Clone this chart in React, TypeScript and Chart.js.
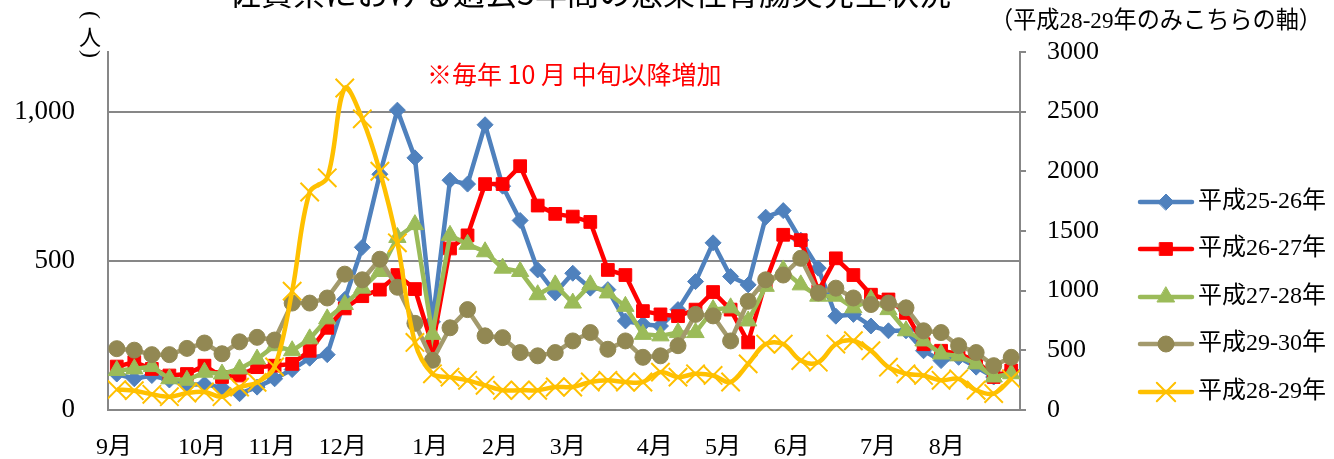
import React, { useEffect, useRef } from 'react';
import { Chart, registerables } from 'chart.js';
import { drawPoint } from 'chart.js/helpers';

Chart.register(...registerables);

// ---- data ----
const weekNumbers = [36, 37, 38, 39, 40, 41, 42, 43, 44, 45, 46, 47, 48, 49, 50, 51, 52, 1, 2, 3, 4, 5, 6, 7, 8, 9, 10, 11, 12, 13, 14, 15, 16, 17, 18, 19, 20, 21, 22, 23, 24, 25, 26, 27, 28, 29, 30, 31, 32, 33, 34, 35];

const monthLabels = ['9月', '10月', '11月', '12月', '1月', '2月', '3月', '4月', '5月', '6月', '7月', '8月'];
const monthPositions = [-0.16, 4.86, 8.85, 12.89, 17.86, 21.85, 25.72, 30.68, 34.56, 38.49, 43.4, 47.33];

const leftTicks = [0, 500, 1000];
const rightTicks = [0, 500, 1000, 1500, 2000, 2500, 3000];

const seriesNames = ['平成25-26年', '平成26-27年', '平成27-28年', '平成29-30年', '平成28-29年'];

const s2526 = [120, 104, 115, 100, 84, 86, 74, 54, 76, 104, 135, 173, 185, 370, 545, 790, 1005, 845, 295, 770, 757, 956, 750, 635, 469, 392, 458, 408, 403, 298, 287, 281, 336, 430, 560, 447, 419, 646, 668, 569, 475, 314, 320, 281, 265, 265, 198, 165, 176, 143, 110, 132];
const s2627 = [145, 160, 137, 115, 120, 148, 110, 115, 143, 148, 154, 198, 275, 340, 381, 403, 452, 405, 215, 541, 585, 757, 757, 817, 685, 657, 648, 630, 469, 452, 331, 320, 314, 336, 395, 336, 226, 430, 587, 569, 398, 508, 452, 386, 370, 325, 220, 198, 187, 165, 110, 132];
const s2728 = [132, 137, 145, 104, 99, 126, 120, 137, 170, 215, 198, 238, 305, 353, 408, 464, 578, 621, 253, 585, 555, 530, 475, 464, 386, 419, 358, 419, 392, 347, 253, 248, 259, 259, 336, 342, 298, 414, 469, 419, 381, 381, 342, 370, 336, 265, 231, 187, 181, 154, 110, 121];
const s2930 = [205, 200, 185, 185, 206, 224, 188, 228, 243, 234, 358, 358, 375, 455, 436, 505, 411, 290, 166, 275, 336, 248, 242, 192, 181, 192, 231, 259, 203, 231, 176, 181, 215, 320, 315, 231, 364, 436, 452, 508, 392, 408, 375, 353, 358, 342, 265, 259, 215, 192, 148, 176];
const s2829 = [170, 160, 130, 110, 140, 150, 110, 190, 230, 360, 995, 1826, 1945, 2698, 2440, 2000, 1400, 565, 302, 274, 247, 205, 164, 164, 164, 191, 191, 233, 247, 233, 233, 316, 274, 302, 288, 233, 385, 551, 551, 413, 399, 551, 579, 496, 357, 302, 288, 247, 260, 164, 136, 260];

const titleText = '佐賀県における過去5年間の感染性胃腸炎発生状況';
const unitText = '人';
const rightAxisNote = '（平成28-29年のみこちらの軸）';
const redNote = '※毎年 10 月 中旬以降増加';

// ---- styles ----
const SERIF = '"Liberation Serif", "Noto Sans CJK JP", serif';
const JP = '"Noto Sans CJK JP", sans-serif';
const GRID = '#878787';

const styles = [
  { line: '#4F81BD', point: '#4F81BD', pointStyle: 'rectRot', radius: 8, pbw: 1 },
  { line: '#FF0000', point: '#FF0000', pointStyle: 'rect', radius: 9, pbw: 1 },
  { line: '#9BBB59', point: '#9BBB59', pointStyle: 'triangle', radius: 10, pbw: 1 },
  { line: '#A39A6C', point: '#928853', pointStyle: 'circle', radius: 8, pbw: 1 },
  { line: '#FFC000', point: '#FFC000', pointStyle: 'crossRot', radius: 13, pbw: 2 },
];

const toXY = (vals: number[]) => vals.map((v, i) => ({ x: i, y: v, week: weekNumbers[i] }));

const annotationPlugin = {
  id: 'annotations',
  afterDraw(chart: any) {
    const ctx = chart.ctx as CanvasRenderingContext2D;
    ctx.save();
    ctx.fillStyle = '#000';
    // clipped title at very top
    ctx.font = `32px ${JP}`;
    ctx.textAlign = 'center';
    ctx.textBaseline = 'alphabetic';
    ctx.fillText(titleText, 590, 5, 760);

    // unit (vertical) for left axis
    ctx.font = `24px ${SERIF}`;
    ctx.textBaseline = 'middle';
    ctx.save();
    ctx.translate(90, 15);
    ctx.rotate(Math.PI / 2);
    ctx.fillText('(', 0, 0);
    ctx.restore();
    ctx.font = `22px ${JP}`;
    ctx.fillText(unitText, 90, 37);
    ctx.font = `24px ${SERIF}`;
    ctx.save();
    ctx.translate(90, 54);
    ctx.rotate(Math.PI / 2);
    ctx.fillText(')', 0, 0);
    ctx.restore();

    // right axis note
    ctx.font = `24px ${SERIF}`;
    ctx.textAlign = 'left';
    ctx.fillText(rightAxisNote, 990, 22, 332);

    // red note
    ctx.fillStyle = '#FF0000';
    ctx.font = `25px ${JP}`;
    ctx.fillText(redNote, 427, 74, 302);

    // legend
    const ys = [202, 249, 297, 344, 392];
    [0, 1, 2, 3, 4].forEach((k, j) => {
      const st = styles[k];
      const y = ys[j];
      ctx.strokeStyle = st.line;
      ctx.lineWidth = 4.5;
      ctx.lineCap = 'round';
      ctx.beginPath();
      ctx.moveTo(1140, y);
      ctx.lineTo(1192, y);
      ctx.stroke();
      ctx.fillStyle = st.point;
      ctx.strokeStyle = st.point;
      ctx.lineWidth = st.pbw;
      drawPoint(ctx, { pointStyle: st.pointStyle as any, radius: st.radius, borderWidth: st.pbw, rotation: 0 }, 1166, y);
      ctx.fillStyle = '#000';
      ctx.font = `24px ${SERIF}`;
      ctx.textAlign = 'left';
      ctx.textBaseline = 'middle';
      ctx.fillText(seriesNames[k], 1198, y, 131);
    });
    ctx.restore();
  },
};

export default function App() {
  const ref = useRef<HTMLCanvasElement>(null);
  useEffect(() => {
    if (!ref.current) return;
    const all = [s2526, s2627, s2728, s2930, s2829];
    const datasets = all.map((vals, k) => {
      const st = styles[k];
      return {
        label: seriesNames[k],
        data: toXY(vals),
        yAxisID: k === 4 ? 'y2' : 'y',
        borderColor: st.line,
        backgroundColor: st.point,
        borderWidth: 4.5,
        pointStyle: st.pointStyle,
        pointRadius: st.radius,
        pointBackgroundColor: st.point,
        pointBorderColor: st.point,
        pointBorderWidth: st.pbw,
        tension: k === 4 ? 0.35 : 0,
        order: 4 - k,
        fill: false,
      };
    });
    const chart = new Chart(ref.current, {
      type: 'line',
      data: { datasets: datasets as any },
      plugins: [annotationPlugin],
      options: {
        responsive: false,
        animation: false,
        layout: { padding: { left: 0, right: 194, top: 52, bottom: 0 } },
        plugins: { legend: { display: false }, tooltip: { enabled: false }, title: { display: false } },
        scales: {
          x: {
            type: 'linear',
            min: -0.5,
            max: 51.5,
            bounds: 'data',
            grid: { display: false },
            border: { display: true, color: GRID, width: 2 },
            afterBuildTicks: (s: any) => {
              s.ticks = monthPositions.map((v) => ({ value: v }));
            },
            afterFit: (s: any) => {
              s.height = 46;
            },
            ticks: {
              autoSkip: false,
              maxRotation: 0,
              padding: 16,
              color: '#000',
              font: { size: 24, family: SERIF },
              callback: (_v: any, i: number) => monthLabels[i],
            },
          },
          y: {
            position: 'left',
            min: 0,
            max: 1200,
            bounds: 'data',
            afterBuildTicks: (s: any) => {
              s.ticks = leftTicks.map((v) => ({ value: v }));
            },
            afterFit: (s: any) => {
              s.width = 108;
            },
            grid: { color: GRID, lineWidth: 2, drawTicks: false },
            border: { display: true, color: GRID, width: 2 },
            ticks: {
              padding: 33,
              color: '#000',
              font: { size: 27, family: SERIF },
              callback: (v: any) => Number(v).toLocaleString('en-US'),
            },
          },
          y2: {
            position: 'right',
            min: 0,
            max: 3000,
            bounds: 'data',
            afterBuildTicks: (s: any) => {
              s.ticks = rightTicks.map((v) => ({ value: v }));
            },
            afterFit: (s: any) => {
              s.width = 120;
            },
            grid: { drawOnChartArea: false, drawTicks: true, tickLength: 6, color: GRID, lineWidth: 2 },
            border: { display: true, color: GRID, width: 2 },
            ticks: {
              padding: 21,
              color: '#000',
              font: { size: 26, family: SERIF },
              callback: (v: any) => String(v),
            },
          },
        },
      } as any,
    });
    return () => chart.destroy();
  }, []);
  return (
    <div style={{ position: 'fixed', left: 0, top: 0, width: 1334, height: 459, background: '#fff' }}>
      <canvas ref={ref} width={1334} height={459} style={{ display: 'block', width: 1334, height: 459 }} />
    </div>
  );
}
